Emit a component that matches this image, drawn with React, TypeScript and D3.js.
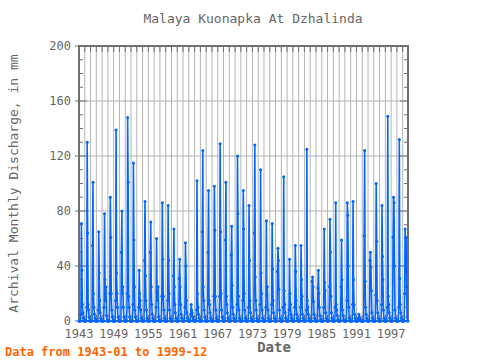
import React from "react";
import * as d3 from "d3";

// monthly discharge (mm), Jan..Dec, one row per year
const firstYear = 1943;
const flow1940s = [
  [0, 0, 0, 0, 5, 71, 37, 12, 6, 2, 0, 0],
  [0, 0, 0, 0, 10, 130, 64, 12, 8, 3, 0, 0],
  [0, 0, 0, 0, 55, 101, 20, 10, 5, 2, 0, 0],
  [0, 0, 0, 0, 8, 65, 35, 15, 6, 2, 0, 0],
  [0, 0, 0, 0, 10, 78, 30, 15, 25, 4, 0, 0],
  [0, 0, 0, 0, 20, 90, 61, 20, 8, 3, 0, 0],
  [0, 0, 0, 0, 15, 139, 35, 20, 10, 3, 0, 0],
];
const flow1950s = [
  [0, 0, 0, 0, 50, 80, 20, 25, 10, 3, 0, 0],
  [0, 0, 0, 0, 20, 148, 101, 18, 10, 3, 0, 0],
  [0, 0, 0, 0, 12, 115, 59, 25, 8, 3, 0, 0],
  [0, 0, 0, 0, 10, 37, 20, 15, 8, 2, 0, 0],
  [0, 0, 0, 0, 44, 87, 33, 15, 8, 2, 0, 0],
  [0, 0, 0, 0, 50, 72, 25, 12, 5, 2, 0, 0],
  [0, 0, 0, 0, 10, 60, 21, 15, 25, 3, 0, 0],
  [0, 0, 0, 0, 18, 86, 45, 18, 8, 2, 0, 0],
  [0, 0, 0, 0, 15, 84, 44, 20, 8, 2, 0, 0],
  [0, 0, 0, 0, 33, 67, 25, 12, 6, 2, 0, 0],
];
const flow1960s = [
  [0, 0, 0, 0, 31, 45, 25, 12, 5, 2, 0, 0],
  [0, 0, 0, 0, 10, 57, 40, 15, 6, 2, 0, 0],
  [0, 0, 0, 0, 5, 12, 8, 6, 3, 1, 0, 0],
  [0, 0, 0, 0, 8, 102, 20, 10, 5, 2, 0, 0],
  [0, 0, 0, 0, 65, 124, 25, 15, 8, 3, 0, 0],
  [0, 0, 0, 0, 50, 95, 15, 12, 6, 2, 0, 0],
  [0, 0, 0, 0, 18, 98, 66, 18, 8, 2, 0, 0],
  [0, 0, 0, 0, 18, 129, 65, 20, 8, 3, 0, 0],
  [0, 0, 0, 0, 59, 101, 18, 12, 6, 2, 0, 0],
  [0, 0, 0, 0, 48, 69, 26, 10, 5, 2, 0, 0],
];
const flow1970s = [
  [0, 0, 0, 0, 12, 120, 78, 18, 8, 2, 0, 0],
  [0, 0, 0, 0, 15, 95, 67, 20, 8, 2, 0, 0],
  [0, 0, 0, 0, 10, 84, 44, 15, 6, 2, 0, 0],
  [0, 0, 0, 0, 64, 128, 32, 15, 8, 2, 0, 0],
  [0, 0, 0, 0, 12, 110, 35, 20, 8, 2, 0, 0],
  [0, 0, 0, 0, 10, 73, 19, 25, 8, 2, 0, 0],
  [0, 0, 0, 0, 12, 71, 38, 15, 6, 2, 0, 0],
  [0, 0, 0, 0, 36, 53, 44, 23, 8, 2, 0, 0],
  [0, 0, 0, 0, 10, 105, 22, 12, 6, 2, 0, 0],
  [0, 0, 0, 0, 8, 45, 20, 12, 5, 2, 0, 0],
];
const flow1980s = [
  [0, 0, 0, 0, 10, 55, 36, 15, 5, 2, 0, 0],
  [0, 0, 0, 0, 10, 55, 30, 18, 5, 2, 0, 0],
  [0, 0, 0, 0, 8, 125, 15, 10, 5, 2, 0, 0],
  [0, 0, 0, 0, 29, 32, 25, 14, 5, 2, 0, 0],
  [0, 0, 0, 0, 24, 37, 20, 10, 4, 1, 0, 0],
  [0, 0, 0, 0, 10, 67, 28, 22, 6, 2, 0, 0],
  [0, 0, 0, 0, 25, 74, 50, 18, 6, 2, 0, 0],
  [0, 0, 0, 0, 10, 86, 12, 8, 4, 1, 0, 0],
  [0, 0, 0, 0, 25, 59, 30, 8, 4, 1, 0, 0],
  [0, 0, 0, 0, 15, 86, 77, 40, 10, 2, 0, 0],
];
const flow1990s = [
  [0, 0, 0, 0, 12, 87, 30, 12, 5, 2, 0, 0],
  [0, 0, 0, 0, 2, 5, 3, 2, 1, 0, 0, 0],
  [0, 0, 0, 0, 62, 124, 29, 10, 5, 2, 0, 0],
  [0, 0, 0, 0, 44, 50, 39, 22, 6, 2, 0, 0],
  [0, 0, 0, 0, 19, 100, 58, 15, 6, 2, 0, 0],
  [0, 0, 0, 0, 12, 84, 47, 30, 8, 2, 0, 0],
  [0, 0, 0, 0, 10, 149, 18, 12, 6, 2, 0, 0],
  [0, 0, 0, 0, 61, 90, 86, 40, 8, 2, 0, 0],
  [0, 0, 0, 0, 10, 132, 31, 12, 6, 2, 0, 0],
  [0, 0, 0, 0, 20, 67, 46, 61, 25, 3, 0, 0],
];

const yearTicks = [1943, 1949, 1955, 1961, 1967, 1973, 1979, 1985, 1991, 1997];
const valueTicks = [0, 40, 80, 120, 160, 200];

const series = [...flow1940s, ...flow1950s, ...flow1960s, ...flow1970s, ...flow1980s, ...flow1990s]
  .flat()
  .map((v, i) => ({ t: firstYear + i / 12, v }));

const font = "'DejaVu Sans Mono', monospace";

const App = () => {
  const width = 480;
  const height = 360;
  const left = 79;
  const right = 408;
  const top = 46;
  const bottom = 321;

  const x = d3
    .scaleLinear()
    .domain([firstYear, series[series.length - 1].t])
    .range([left, right]);
  const y = d3.scaleLinear().domain([0, 200]).range([bottom, top]);

  const line = d3
    .line<{ t: number; v: number }>()
    .x(d => x(d.t))
    .y(d => y(d.v));

  const allYears = d3.range(firstYear, 2000);
  const minorVals = d3.range(0, 201, 10);

  return (
    <svg
      width={width}
      height={height}
      style={{ position: "absolute", left: 0, top: 0, background: "#fff" }}
    >
      {/* grid */}
      {allYears.map(yr => (
        <line key={"g" + yr} x1={x(yr)} x2={x(yr)} y1={top} y2={bottom} stroke="#b4b4b4" strokeWidth={1} />
      ))}
      {valueTicks.map(v => (
        <line key={"h" + v} x1={left} x2={right} y1={y(v)} y2={y(v)} stroke="#b4b4b4" strokeWidth={1} />
      ))}

      {/* year ticks top and bottom */}
      {allYears.map(yr => (
        <g key={"t" + yr} stroke="#707070" strokeWidth={1}>
          <line x1={x(yr)} x2={x(yr)} y1={top} y2={top + 6} />
          <line x1={x(yr)} x2={x(yr)} y1={bottom} y2={bottom - 6} />
        </g>
      ))}
      {/* value ticks left and right */}
      {minorVals.map(v => (
        <g key={"m" + v} stroke="#707070" strokeWidth={1}>
          <line x1={left} x2={left + (v % 40 === 0 ? 8 : 4)} y1={y(v)} y2={y(v)} />
          <line x1={right} x2={right - (v % 40 === 0 ? 8 : 4)} y1={y(v)} y2={y(v)} />
        </g>
      ))}
      {valueTicks.map(v => (
        <line key={"o" + v} x1={left - 4} x2={left} y1={y(v)} y2={y(v)} stroke="#707070" strokeWidth={1} />
      ))}

      {/* frame */}
      <rect x={left} y={top} width={right - left} height={bottom - top} fill="none" stroke="#707070" strokeWidth={2} />

      {/* data */}
      <path d={line(series) || ""} fill="none" stroke="#0066ff" strokeWidth={1.6} />
      {series.map((d, i) => (
        <circle key={i} cx={x(d.t)} cy={y(d.v)} r={1.5} fill="#0066ff" />
      ))}

      {/* tick labels */}
      {valueTicks.map(v => (
        <text key={"yl" + v} x={71} y={y(v)} dy="0.35em" textAnchor="end" fontFamily={font} fontSize={12} fill="#666">
          {v}
        </text>
      ))}
      {yearTicks.map(yr => (
        <text key={"xl" + yr} x={x(yr)} y={338} textAnchor="middle" fontFamily={font} fontSize={12} fill="#666">
          {yr}
        </text>
      ))}

      {/* titles */}
      <text x={253} y={23} textAnchor="middle" fontFamily={font} fontSize={13} fill="#666">
        Malaya Kuonapka At Dzhalinda
      </text>
      <text x={274} y={352} textAnchor="middle" fontFamily={font} fontSize={14} fontWeight="bold" fill="#666">
        Date
      </text>
      <text
        transform={`translate(18,${(top + bottom) / 2}) rotate(-90)`}
        textAnchor="middle"
        fontFamily={font}
        fontSize={13}
        fill="#666"
      >
        Archival Monthly Discharge, in mm
      </text>
      <text x={5} y={356} fontFamily={font} fontSize={12} fontWeight="bold" fill="#ff6600">
        Data from 1943-01 to 1999-12
      </text>
    </svg>
  );
};

export default App;
